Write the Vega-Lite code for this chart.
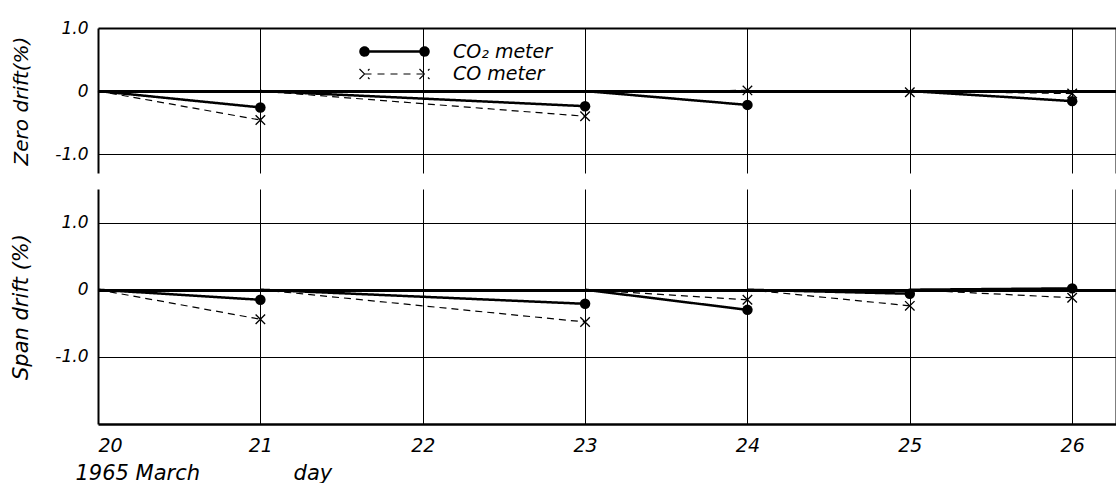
{
  "$schema": "https://vega.github.io/schema/vega-lite/v6.json",
  "background": "white",
  "padding": {"left": 10, "top": 19, "right": 0, "bottom": 0},
  "spacing": 16,
  "config": {
    "font": "DejaVu Sans",
    "view": {"stroke": null},
    "axis": {
      "labelFont": "DejaVu Sans",
      "titleFont": "DejaVu Sans",
      "labelFontStyle": "italic",
      "titleFontStyle": "italic",
      "titleFontWeight": "normal",
      "labelColor": "black",
      "titleColor": "black",
      "gridColor": "black",
      "gridOpacity": 1,
      "domain": false,
      "ticks": false
    }
  },
  "datasets": {
    "drift": [
      {"panel": "zero", "meter": "CO₂ meter", "seg": "a", "day": 20, "drift": 0, "obs": 0},
      {"panel": "zero", "meter": "CO₂ meter", "seg": "a", "day": 21, "drift": -0.26, "obs": 1},
      {"panel": "zero", "meter": "CO₂ meter", "seg": "b", "day": 21, "drift": 0, "obs": 0},
      {"panel": "zero", "meter": "CO₂ meter", "seg": "b", "day": 23, "drift": -0.24, "obs": 1},
      {"panel": "zero", "meter": "CO₂ meter", "seg": "c", "day": 23, "drift": 0, "obs": 0},
      {"panel": "zero", "meter": "CO₂ meter", "seg": "c", "day": 24, "drift": -0.22, "obs": 1},
      {"panel": "zero", "meter": "CO₂ meter", "seg": "d", "day": 25, "drift": 0, "obs": 0},
      {"panel": "zero", "meter": "CO₂ meter", "seg": "d", "day": 26, "drift": -0.16, "obs": 1},
      {"panel": "zero", "meter": "CO meter", "seg": "a", "day": 20, "drift": 0, "obs": 0},
      {"panel": "zero", "meter": "CO meter", "seg": "a", "day": 21, "drift": -0.46, "obs": 1},
      {"panel": "zero", "meter": "CO meter", "seg": "b", "day": 21, "drift": 0, "obs": 0},
      {"panel": "zero", "meter": "CO meter", "seg": "b", "day": 23, "drift": -0.40, "obs": 1},
      {"panel": "zero", "meter": "CO meter", "seg": "c", "day": 23, "drift": 0, "obs": 0},
      {"panel": "zero", "meter": "CO meter", "seg": "c", "day": 24, "drift": 0.01, "obs": 1},
      {"panel": "zero", "meter": "CO meter", "seg": "d", "day": 24, "drift": 0, "obs": 0},
      {"panel": "zero", "meter": "CO meter", "seg": "d", "day": 25, "drift": -0.02, "obs": 1},
      {"panel": "zero", "meter": "CO meter", "seg": "e", "day": 25, "drift": 0, "obs": 0},
      {"panel": "zero", "meter": "CO meter", "seg": "e", "day": 26, "drift": -0.04, "obs": 1},
      {"panel": "span", "meter": "CO₂ meter", "seg": "a", "day": 20, "drift": 0, "obs": 0},
      {"panel": "span", "meter": "CO₂ meter", "seg": "a", "day": 21, "drift": -0.15, "obs": 1},
      {"panel": "span", "meter": "CO₂ meter", "seg": "b", "day": 21, "drift": 0, "obs": 0},
      {"panel": "span", "meter": "CO₂ meter", "seg": "b", "day": 23, "drift": -0.21, "obs": 1},
      {"panel": "span", "meter": "CO₂ meter", "seg": "c", "day": 23, "drift": 0, "obs": 0},
      {"panel": "span", "meter": "CO₂ meter", "seg": "c", "day": 24, "drift": -0.30, "obs": 1},
      {"panel": "span", "meter": "CO₂ meter", "seg": "d", "day": 24, "drift": 0, "obs": 0},
      {"panel": "span", "meter": "CO₂ meter", "seg": "d", "day": 25, "drift": -0.06, "obs": 1},
      {"panel": "span", "meter": "CO₂ meter", "seg": "e", "day": 25, "drift": 0, "obs": 0},
      {"panel": "span", "meter": "CO₂ meter", "seg": "e", "day": 26, "drift": 0.02, "obs": 1},
      {"panel": "span", "meter": "CO meter", "seg": "a", "day": 20, "drift": 0, "obs": 0},
      {"panel": "span", "meter": "CO meter", "seg": "a", "day": 21, "drift": -0.44, "obs": 1},
      {"panel": "span", "meter": "CO meter", "seg": "b", "day": 21, "drift": 0, "obs": 0},
      {"panel": "span", "meter": "CO meter", "seg": "b", "day": 23, "drift": -0.48, "obs": 1},
      {"panel": "span", "meter": "CO meter", "seg": "c", "day": 23, "drift": 0, "obs": 0},
      {"panel": "span", "meter": "CO meter", "seg": "c", "day": 24, "drift": -0.15, "obs": 1},
      {"panel": "span", "meter": "CO meter", "seg": "d", "day": 24, "drift": 0, "obs": 0},
      {"panel": "span", "meter": "CO meter", "seg": "d", "day": 25, "drift": -0.24, "obs": 1},
      {"panel": "span", "meter": "CO meter", "seg": "e", "day": 25, "drift": 0, "obs": 0},
      {"panel": "span", "meter": "CO meter", "seg": "e", "day": 26, "drift": -0.12, "obs": 1}
    ]
  },
  "resolve": {"scale": {"strokeDash": "independent", "strokeWidth": "independent", "x": "independent", "y": "independent"}},
  "vconcat": [
    {
      "width": 1018,
      "height": 145,
      "data": {"name": "drift"},
      "transform": [{"filter": "datum.panel == 'zero'"}],
      "encoding": {
        "x": {"field": "day", "type": "quantitative", "scale": {"domain": [20, 26.27], "nice": false, "zero": false},
          "axis": {"values": [20, 21, 22, 23, 24, 25, 26, 26.27], "labels": false, "title": null,
            "gridWidth": {"condition": {"test": "datum.value == 20 || datum.value > 26.2", "value": 2}, "value": 1}}},
        "y": {"field": "drift", "type": "quantitative", "scale": {"domain": [-1.3, 1.0], "nice": false, "zero": false},
          "axis": {"values": [-1, 0, 1], "title": "Zero  drift(%)", "titleFontSize": 20, "titlePadding": 23,
            "labelFontSize": 17, "labelPadding": 10,
            "labelExpr": "datum.value == 0 ? '0' : (datum.value > 0 ? '1.0' : '-1.0')",
            "gridWidth": {"condition": [{"test": "datum.value == 0", "value": 3}, {"test": "datum.value == 1", "value": 2}], "value": 1}}}
      },
      "layer": [
        {
          "mark": {"type": "line", "color": "black"},
          "encoding": {
            "detail": {"field": "seg"},
            "strokeDash": {"field": "meter", "type": "nominal",
              "scale": {"domain": ["CO₂ meter", "CO meter"], "range": [[1, 0], [7, 5]]},
              "legend": {"orient": "none", "legendX": 285, "legendY": 12, "title": null, "padding": 0,
                "symbolSize": 400, "symbolStrokeColor": "black", "symbolFillColor": "black",
                "labelFontSize": 19, "labelFontStyle": "italic", "labelColor": "black", "labelFont": "DejaVu Sans",
                "labelOffset": 47, "rowPadding": 1,
                "encode": {"symbols": {"update": {
                  "shape": {"signal": "datum.value == 'CO₂ meter' ? 'M-3.4,0a0.4,0.4 0 1,0 0.8,0a0.4,0.4 0 1,0 -0.8,0M-3,0L3,0M2.6,0a0.4,0.4 0 1,0 0.8,0a0.4,0.4 0 1,0 -0.8,0' : 'M-3.5,-0.5L-2.5,0.5M-3.5,0.5L-2.5,-0.5M-3,0L-2.3,0M-1.7,0L-1,0M-0.4,0L0.3,0M0.9,0L1.6,0M2.2,0L3,0M2.5,-0.5L3.5,0.5M2.5,0.5L3.5,-0.5'"},
                  "strokeDash": {"value": [1, 0]},
                  "strokeWidth": {"signal": "datum.value == 'CO₂ meter' ? 2 : 1.2"}}}}}},
            "strokeWidth": {"field": "meter", "type": "nominal", "scale": {"domain": ["CO₂ meter", "CO meter"], "range": [2.5, 1.2]}, "legend": null}
          }
        },
        {
          "transform": [{"filter": "datum.obs == 1 && datum.meter == 'CO₂ meter'"}],
          "mark": {"type": "point", "filled": true, "shape": "circle", "size": 110, "color": "black", "opacity": 1}
        },
        {
          "transform": [{"filter": "datum.obs == 1 && datum.meter == 'CO meter'"}],
          "mark": {"type": "point", "filled": false, "shape": "M-1,-1L1,1M-1,1L1,-1", "size": 90, "color": "black", "strokeWidth": 1.3, "opacity": 1}
        }
      ]
    },
    {
      "width": 1018,
      "height": 235,
      "data": {"name": "drift"},
      "transform": [{"filter": "datum.panel == 'span'"}],
      "encoding": {
        "x": {"field": "day", "type": "quantitative", "scale": {"domain": [20, 26.27], "nice": false, "zero": false},
          "axis": {"values": [20, 21, 22, 23, 24, 25, 26, 26.27], "labelFontSize": 19, "labelPadding": 12,
            "labelExpr": "datum.value > 26.2 ? '' : datum.label",
            "title": "1965 March\u00a0\u00a0\u00a0\u00a0\u00a0\u00a0\u00a0\u00a0\u00a0\u00a0\u00a0\u00a0\u00a0\u00a0day",
            "titleFontSize": 21, "titleAnchor": "start", "titleAlign": "left", "titleX": -23, "titlePadding": 7,
            "gridWidth": {"condition": {"test": "datum.value == 20 || datum.value > 26.2", "value": 2}, "value": 1}}},
        "y": {"field": "drift", "type": "quantitative", "scale": {"domain": [-2.0, 1.5], "nice": false, "zero": false},
          "axis": {"values": [-2, -1, 0, 1], "title": "Span  drift  (%)", "titleFontSize": 21, "titlePadding": 23,
            "labelFontSize": 17, "labelPadding": 10,
            "labelExpr": "datum.value == 0 ? '0' : (datum.value == 1 ? '1.0' : (datum.value == -1 ? '-1.0' : ''))",
            "gridWidth": {"condition": [{"test": "datum.value == 0", "value": 3}, {"test": "datum.value == -2", "value": 2.5}], "value": 1}}}
      },
      "layer": [
        {
          "mark": {"type": "line", "color": "black"},
          "encoding": {
            "detail": {"field": "seg"},
            "strokeDash": {"field": "meter", "type": "nominal", "scale": {"domain": ["CO₂ meter", "CO meter"], "range": [[1, 0], [7, 5]]}, "legend": null},
            "strokeWidth": {"field": "meter", "type": "nominal", "scale": {"domain": ["CO₂ meter", "CO meter"], "range": [2.5, 1.2]}, "legend": null}
          }
        },
        {
          "transform": [{"filter": "datum.obs == 1 && datum.meter == 'CO₂ meter'"}],
          "mark": {"type": "point", "filled": true, "shape": "circle", "size": 110, "color": "black", "opacity": 1}
        },
        {
          "transform": [{"filter": "datum.obs == 1 && datum.meter == 'CO meter'"}],
          "mark": {"type": "point", "filled": false, "shape": "M-1,-1L1,1M-1,1L1,-1", "size": 90, "color": "black", "strokeWidth": 1.3, "opacity": 1}
        }
      ]
    }
  ]
}
